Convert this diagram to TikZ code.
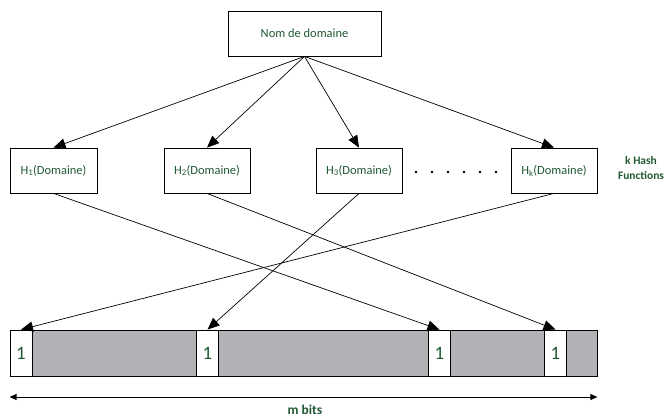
\documentclass[tikz,border=0pt]{standalone}
\usepackage{fontspec}
\setmainfont{Carlito}
\usetikzlibrary{arrows.meta}
\definecolor{txtgreen}{RGB}{32,88,52}
\definecolor{bitgray}{RGB}{177,178,181}

\begin{document}
\begin{tikzpicture}[x=1bp,y=-1bp,
    hbox/.style={draw,line width=0.8bp,minimum width=86bp,minimum height=45bp,inner sep=0pt,
        font=\fontsize{12.5}{14}\selectfont,text=txtgreen},
    bitcell/.style={draw,fill=white,line width=0.8bp,minimum width=22bp,minimum height=46bp,
        inner sep=0pt,font=\fontsize{19}{20}\selectfont,text=txtgreen},
    arr/.style={-{Triangle[length=12bp,width=10bp]},line width=0.7bp}]
    \useasboundingbox (0,0) rectangle (669,419);

    \node [hbox, minimum width=153bp] (dom) at (304.5,33.5) {Nom de domaine};

    \node [hbox, minimum width=87bp] (h1) at (53.5,170.5) {H\textsubscript{1}(Domaine)};
    \node [hbox] (h2) at (207,170.5) {H\textsubscript{2}(Domaine)};
    \node [hbox] (h3) at (359,170.5) {H\textsubscript{3}(Domaine)};
    \node [hbox] (hk) at (554,170.5) {H\textsubscript{k}(Domaine)};

    \foreach \x in {416,432,448,464,480,496}
        \fill (\x,172) circle (1.3bp);

    \node [font=\bfseries\fontsize{11.5}{16}\selectfont, text=txtgreen, align=center] (khash) at (641,168) {k Hash\\Functions};

    \node [draw, fill=bitgray, line width=0.8bp, minimum width=587bp, minimum height=46bp, inner sep=0pt] (bits) at (303.5,353) {};
    \node [bitcell] (b1) at (21,353) {1};
    \node [bitcell] (b2) at (207.5,353) {1};
    \node [bitcell] (b3) at (439.5,353) {1};
    \node [bitcell] (b4) at (555.5,353) {1};

    \foreach \h in {h1,h2,h3,hk}
        \draw [arr] (dom.south) -- (\h.north);

    \draw [arr] (h1.south) -- (b3.north);
    \draw [arr] (h2.south) -- (b4.north);
    \draw [arr] (h3.south) -- (b2.north);
    \draw [arr] (hk.south) -- (b1.north);

    \coordinate (ml) at (bits.west |- 0,397);
    \coordinate (mr) at (bits.east |- 0,397);
    \draw [{Triangle[length=7bp,width=6bp]}-{Triangle[length=7bp,width=6bp]}, line width=0.7bp] (ml) -- (mr);
    \node [font=\bfseries\fontsize{13.5}{15}\selectfont, text=txtgreen] (mbits) at (305,410) {m bits};
\end{tikzpicture}
\end{document}
